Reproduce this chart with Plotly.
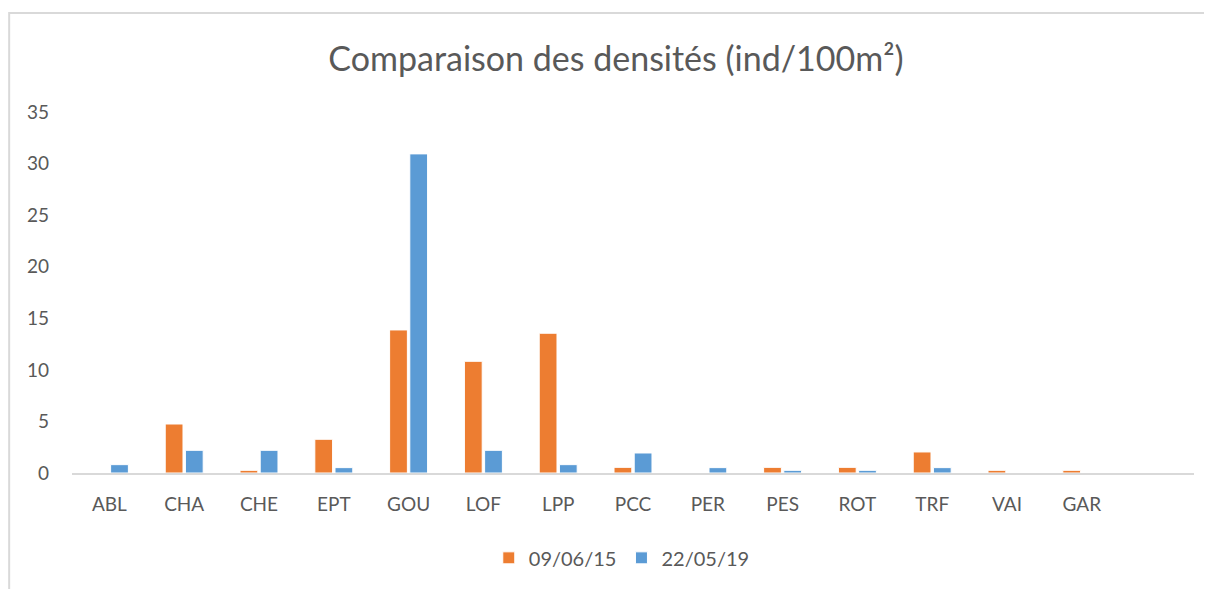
import plotly.graph_objects as go

# Species codes (last slot is an empty category, as in the source chart)
categories = ["ABL", "CHA", "CHE", "EPT", "GOU", "LOF", "LPP", "PCC",
              "PER", "PES", "ROT", "TRF", "VAI", "GAR", " "]
dens_2015 = [0, 4.75, 0.26, 3.27, 13.87, 10.83, 13.55, 0.55,
             0, 0.55, 0.55, 2.04, 0.26, 0.26, None]
dens_2019 = [0.81, 2.2, 2.2, 0.52, 30.94, 2.2, 0.81, 1.94,
             0.52, 0.26, 0.26, 0.52, 0, 0, None]
series_names = ["09/06/15", "22/05/19"]

ORANGE = "#ED7D31"
BLUE = "#5B9BD5"
TEXT = "#595959"
FONT = "Lato"

fig = go.Figure()

fig.add_trace(go.Bar(
    x=categories, y=dens_2015, name=series_names[0],
    marker=dict(color=ORANGE, line=dict(color="white", width=1)),
))
fig.add_trace(go.Bar(
    x=categories, y=dens_2019, name=series_names[1],
    marker=dict(color=BLUE, line=dict(color="white", width=1)),
))

# page body has an 8px margin, so the figure is sized to fit the window
fig.update_layout(
    width=1204, height=581,
    margin=dict(l=64, r=18, t=104, b=116),
    paper_bgcolor="white", plot_bgcolor="white",
    font=dict(family=FONT, color=TEXT, size=19),
    title=dict(text="Comparaison des densités (ind/100m²)",
               x=0.505, xanchor="center", y=0.912, yanchor="middle",
               font=dict(size=34, color=TEXT, family=FONT)),
    barmode="group", bargap=0.46, bargroupgap=0.12,
    showlegend=True,
    legend=dict(orientation="h", x=0.49, xanchor="center",
                y=-0.235, yanchor="middle",
                font=dict(size=20, color=TEXT), itemwidth=30),
    shapes=[dict(type="rect", xref="paper", yref="paper",
                 x0=-0.056, x1=1.2, y0=-0.4, y1=1.274,
                 line=dict(color="#D9D9D9", width=2),
                 fillcolor="rgba(0,0,0,0)", layer="below")],
)

fig.update_xaxes(
    showgrid=False, showline=True, linecolor="#D9D9D9", linewidth=2,
    ticks="", ticklabelstandoff=13, tickfont=dict(size=19, color=TEXT),
)
fig.update_yaxes(
    range=[0, 35], dtick=5, showgrid=False, zeroline=False,
    showline=False, ticks="", ticklabelstandoff=22,
    tickfont=dict(size=19, color=TEXT),
)

fig.write_html("out.html")
